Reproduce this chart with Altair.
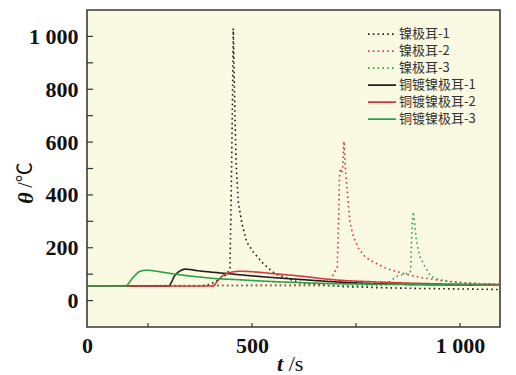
import altair as alt
import pandas as pd

# ---------------- data ----------------
series_names = ["镍极耳-1", "镍极耳-2", "镍极耳-3", "铜镀镍极耳-1", "铜镀镍极耳-2", "铜镀镍极耳-3"]
series_colors = ["#1e1e1e", "#d6373a", "#2aa146", "#1e1e1e", "#d6373a", "#2aa146"]

t_ni1 = [105, 380, 395, 411, 425, 440, 447, 450, 453, 455, 459, 462, 467, 475, 487, 503, 527, 555, 587, 611, 660, 720, 800, 900, 1000, 1096]
v_ni1 = [55, 55, 61, 70, 85, 100, 123, 400, 750, 1030, 702, 512, 373, 298, 222, 184, 140, 102, 83, 70, 60, 53, 49, 46, 44, 42]

t_ni2 = [105, 680, 692, 705, 708, 710, 712, 716, 718, 719.5, 721, 724, 728, 732, 736, 744, 756, 772, 792, 816, 832, 852, 880, 908, 936, 968, 1008, 1048, 1096]
v_ni2 = [55, 60, 89, 127, 304, 456, 500, 481, 506, 556, 603, 506, 430, 355, 292, 241, 197, 165, 146, 127, 117, 108, 96, 87, 80, 73, 68, 64, 62]

t_ni3 = [105, 820, 836, 844, 856, 868, 880, 881.5, 882.2, 884, 885.3, 887.7, 890, 894, 898, 904, 910, 916, 921, 928, 936, 948, 968, 1000, 1050, 1096]
v_ni3 = [55, 57, 77, 89, 96, 100, 108, 115, 165, 254, 304, 336, 304, 241, 203, 165, 146, 127, 115, 96, 87, 80, 74, 68, 63, 61]

t_cu1 = [105, 299, 315, 327, 339, 375, 415, 455, 535, 615, 700, 800, 900, 1000, 1096]
v_cu1 = [55, 55, 96, 112, 119, 112, 106, 100, 89, 80, 71, 64, 61, 59, 58]

t_cu2 = [105, 407, 415, 431, 447, 471, 511, 551, 615, 688, 808, 928, 1096]
v_cu2 = [55, 55, 70, 96, 106, 111, 108, 102, 93, 80, 70, 64, 61]

t_cu3 = [105, 195, 215, 231, 247, 271, 295, 335, 375, 415, 455, 535, 615, 700, 800, 900, 1000, 1096]
v_cu3 = [55, 55, 89, 111, 115, 111, 105, 96, 89, 83, 80, 73, 68, 64, 62, 60, 59, 58]

y_tick_values = [0, 100, 200, 300, 400, 500, 600, 700, 800, 900, 1000]
y_label_values = [0, 200, 400, 600, 800, 1000]
x_tick_values = [250, 500, 750, 1000]
x_label_values = [103.4, 500, 1000]

# ---------------- build table ----------------
rows = []
for name, ts, vs in zip(series_names,
                        [t_ni1, t_ni2, t_ni3, t_cu1, t_cu2, t_cu3],
                        [v_ni1, v_ni2, v_ni3, v_cu1, v_cu2, v_cu3]):
    for t, v in zip(ts, vs):
        rows.append({"series": name, "t": t, "theta": v})
df = pd.DataFrame(rows)

W, H = 413, 317
X_DOMAIN = [103.4, 1096]
Y_DOMAIN = [-100, 1100]

xscale = alt.Scale(domain=X_DOMAIN, nice=False, zero=False)
yscale = alt.Scale(domain=Y_DOMAIN, nice=False, zero=False)

dash_range = [[1.6, 3.2]] * 3 + [[1, 0]] * 3
width_range = [1.6] * 3 + [2.6] * 3

x_enc = alt.X("t:Q", scale=xscale,
              axis=alt.Axis(values=x_label_values, title=None, grid=False, ticks=False,
                            tickSize=0, domain=False, labelFlush=False, labelOverlap=False,
                            labelExpr="datum.value < 200 ? '0' : (datum.value >= 1000 ? '1 000' : '500')",
                            labelFont="Liberation Serif", labelFontWeight="bold",
                            labelFontSize=22, labelColor="#111", labelPadding=8))
y_enc = alt.Y("theta:Q", scale=yscale,
              axis=alt.Axis(values=y_label_values, title=None, grid=False, ticks=False,
                            tickSize=0, domain=False, labelOverlap=False,
                            labelExpr="datum.value == 1000 ? '1 000' : format(datum.value, 'd')",
                            labelFont="Liberation Serif", labelFontWeight="bold",
                            labelFontSize=22, labelColor="#111", labelPadding=9))

color_enc = alt.Color("series:N",
                      scale=alt.Scale(domain=series_names, range=series_colors),
                      legend=alt.Legend(title=None, orient="none", legendX=280, legendY=16,
                                        symbolType="stroke", symbolSize=784,
                                        clipHeight=16.3, rowPadding=0,
                                        labelFont="Noto Sans CJK SC", labelFontSize=13,
                                        labelColor="#333", labelOffset=2, padding=0))
dash_enc = alt.StrokeDash("series:N", scale=alt.Scale(domain=series_names, range=dash_range))
width_enc = alt.StrokeWidth("series:N", scale=alt.Scale(domain=series_names, range=width_range))

layers = []
draw_order = series_names  # dotted first, then solid (black, red, green)
for i, s in enumerate(draw_order):
    interp = "linear" if i < 3 else "monotone"
    layers.append(
        alt.Chart(df).transform_filter(alt.datum.series == s)
        .mark_line(interpolate=interp)
        .encode(x=x_enc, y=y_enc, color=color_enc, strokeDash=dash_enc,
                strokeWidth=width_enc, order="t:Q")
    )

# inward ticks
ytick_df = pd.DataFrame({"v": y_tick_values})
yticks = alt.Chart(ytick_df).mark_rule(color="#333", strokeWidth=1.2).encode(
    y=alt.Y("v:Q", scale=yscale), x=alt.value(0), x2=alt.value(6))
xtick_df = pd.DataFrame({"v": x_tick_values})
xticks = alt.Chart(xtick_df).mark_rule(color="#333", strokeWidth=1.2).encode(
    x=alt.X("v:Q", scale=xscale), y=alt.value(H), y2=alt.value(H - 4))

# axis titles with mixed styles
def txt(s, x, y, style, weight, angle=0, size=22):
    kw = dict(font="Liberation Serif, Noto Sans CJK SC", fontSize=size, fontStyle=style,
              fontWeight=weight, color="#111", align="center", baseline="middle")
    if angle:
        kw["angle"] = angle
    return alt.Chart(pd.DataFrame({"s": [s]})).mark_text(**kw).encode(
        text="s:N", x=alt.value(x), y=alt.value(y))

titles = [
    txt("t", 193, 354, "italic", "bold"),
    txt("/s", 209, 354, "normal", "normal"),
    txt("θ", -61, 188, "italic", "bold", angle=270),
    txt("/℃", -61, 165, "normal", "normal", angle=270, size=20),
]

chart = alt.layer(*layers, yticks, xticks, *titles).properties(
    width=W, height=H,
    autosize=alt.AutoSizeParams(type="none"),
    padding={"left": 87, "top": 10, "right": 16, "bottom": 48},
    background="white",
).configure_view(fill="#fafae3", stroke="#3a3a3a", strokeWidth=1.6)

chart.save("out.html", embed_options={"renderer": "svg", "actions": False})
